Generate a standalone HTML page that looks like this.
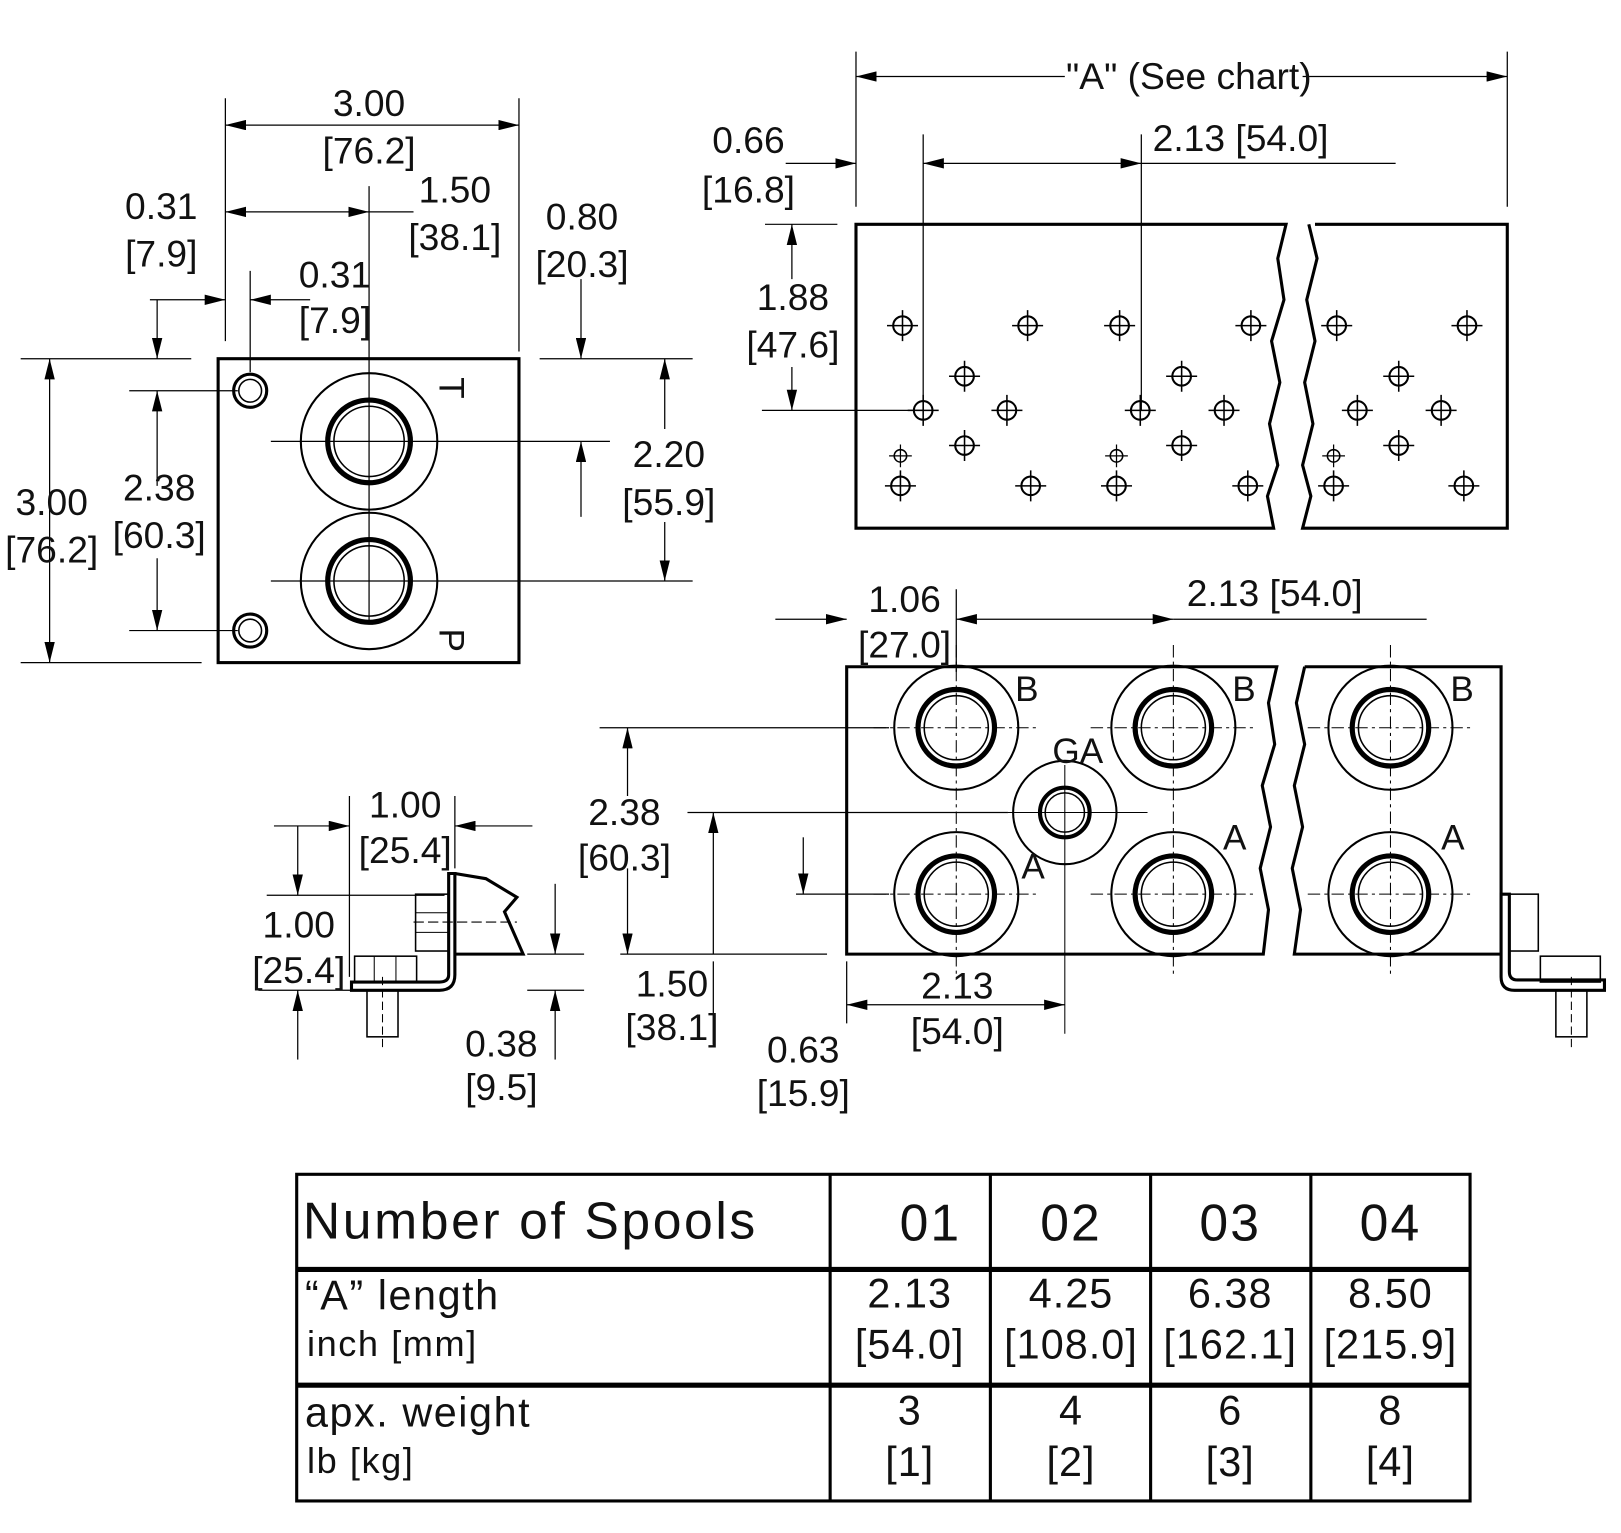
<!DOCTYPE html>
<html><head><meta charset="utf-8"><style>
html,body{margin:0;padding:0;background:#fff;}
svg{display:block;}
text{font-family:"Liberation Sans",sans-serif;fill:#111;}
</style></head><body>
<svg width="1621" height="1533" viewBox="0 0 1568 1483" preserveAspectRatio="none" xmlns="http://www.w3.org/2000/svg">
<defs>
<marker id="a" viewBox="0 0 20 10" refX="20" refY="5" markerWidth="20" markerHeight="10" markerUnits="userSpaceOnUse" orient="auto-start-reverse"><path d="M0,0 L20,5 L0,10z" fill="#000"/></marker>
<g id="h"><circle r="9" fill="none" stroke="#000" stroke-width="2"/><path d="M-15,0H15M0,-15V15" stroke="#000" stroke-width="1.5"/></g>
<g id="hs"><circle r="6" fill="none" stroke="#000" stroke-width="1.5"/><path d="M-11,0H11M0,-11V11" stroke="#000" stroke-width="1.2"/></g>
<g id="p"><circle r="60" fill="none" stroke="#000" stroke-width="2"/><circle r="37" fill="none" stroke="#000" stroke-width="5"/><circle r="31" fill="none" stroke="#000" stroke-width="1.5"/><path d="M-80,0H80M0,-80V80" stroke="#000" stroke-width="1" stroke-dasharray="12,4,3,4"/></g>
<g id="cl"><use href="#h" x="0" y="-33"/><use href="#h" x="-40" y="0"/><use href="#h" x="41" y="0"/><use href="#h" x="0" y="34"/></g>
</defs>
<g stroke="#000" fill="none">
<rect x="211" y="347" width="291" height="294" stroke-width="3"/>
<circle cx="242" cy="378" r="16" stroke-width="3"/><circle cx="242" cy="378" r="11" stroke-width="1.5"/>
<circle cx="242" cy="610" r="16" stroke-width="3"/><circle cx="242" cy="610" r="11" stroke-width="1.5"/>
<circle cx="357" cy="427" r="66" stroke-width="2"/><circle cx="357" cy="427" r="40" stroke-width="5"/><circle cx="357" cy="427" r="34" stroke-width="1.5"/>
<circle cx="357" cy="562" r="66" stroke-width="2"/><circle cx="357" cy="562" r="40" stroke-width="5"/><circle cx="357" cy="562" r="34" stroke-width="1.5"/>
<g stroke-width="1.2">
<path d="M357,180V600M262,427H590M262,562H670M125,378H230M125,610H230"/>
<path d="M218,95V330M502,95V340M242,262V360M20,347H185M20,641H195M522,347H670"/>
<path d="M218,121H502" marker-start="url(#a)" marker-end="url(#a)"/>
<path d="M218,205H357" marker-start="url(#a)" marker-end="url(#a)"/>
<path d="M357,205H400"/>
<path d="M145,290H218" marker-end="url(#a)"/><path d="M300,290H242" marker-end="url(#a)"/>
<path d="M152,290V347" marker-end="url(#a)"/>
<path d="M562,270V347" marker-end="url(#a)"/>
<path d="M48,347V641" marker-start="url(#a)" marker-end="url(#a)"/>
<path d="M152,378V470M152,540V610" marker-start="url(#a)" marker-end="url(#a)"/>
<path d="M643,347V415M643,505V562" marker-start="url(#a)" marker-end="url(#a)"/>
<path d="M562,427V500" marker-start="url(#a)"/>
</g>
<path d="M828,217H1244L1236,250L1242,290L1230,330L1238,370L1228,410L1236,450L1226,480L1232,511H828Z" stroke-width="3"/>
<path d="M1272,217H1458V511H1260L1268,480L1260,450L1270,410L1262,370L1272,330L1264,290L1274,250L1266,217" stroke-width="3"/>
<g stroke-width="1.2">
<path d="M828,50V200M1458,50V200M893,130V397M1104,130V397M740,217H810M737,397H893"/>
<path d="M828,74H1030M1260,74H1458" marker-start="url(#a)" marker-end="url(#a)"/>
<path d="M893,158H1104" marker-start="url(#a)" marker-end="url(#a)"/>
<path d="M1104,158H1350"/>
<path d="M760,158H828" marker-end="url(#a)"/>
<path d="M766,217V270M766,355V397" marker-start="url(#a)" marker-end="url(#a)"/>
</g>
</g>
<g>
<use href="#h" x="873" y="315"/><use href="#h" x="994" y="315"/><use href="#h" x="1083" y="315"/><use href="#h" x="1210" y="315"/><use href="#h" x="1293" y="315"/><use href="#h" x="1419" y="315"/>
<use href="#cl" x="933" y="397"/><use href="#cl" x="1143" y="397"/><use href="#cl" x="1353" y="397"/>
<use href="#hs" x="871" y="441"/><use href="#h" x="871" y="470"/><use href="#hs" x="1080" y="441"/><use href="#h" x="1080" y="470"/><use href="#hs" x="1290" y="441"/><use href="#h" x="1290" y="470"/>
<use href="#h" x="997" y="470"/><use href="#h" x="1207" y="470"/><use href="#h" x="1416" y="470"/>
</g>
<g stroke="#000" fill="none">
<path d="M819,645H1235L1227,680L1233,720L1221,760L1229,800L1219,840L1227,880L1222,923H819Z" stroke-width="3"/>
<path d="M1262,645H1452V923H1252L1258,880L1250,840L1260,800L1252,760L1262,720L1254,680L1262,645" stroke-width="3"/>
<circle cx="1030" cy="786" r="50" stroke-width="2"/><circle cx="1030" cy="786" r="24" stroke-width="4"/><circle cx="1030" cy="786" r="19" stroke-width="1.5"/>
<path d="M975,786H1110M1030,740V1000" stroke-width="1"/>
<g stroke-width="1.2">
<path d="M925,570V650M580,704H860M665,786H975M770,865H860M600,923H800"/>
<path d="M750,599H819" marker-end="url(#a)"/>
<path d="M925,599H1135" marker-start="url(#a)" marker-end="url(#a)"/>
<path d="M1135,599H1380"/>
<path d="M607,704V770M607,840V923" marker-start="url(#a)" marker-end="url(#a)"/>
<path d="M690,786V923M690,930V1010" marker-start="url(#a)"/>
<path d="M777,810V865" marker-end="url(#a)"/>
<path d="M819,930V990"/>
<path d="M819,972H1030" marker-start="url(#a)" marker-end="url(#a)"/>
</g>
<path d="M340,958H425Q440,958 440,943V845H434V943Q434,950 425,950H340Z" stroke-width="3" fill="#fff"/>
<path d="M440,845L470,850L500,868L488,882L506,923H440" stroke-width="3"/>
<rect x="402" y="865" width="32" height="55" stroke-width="1.5"/><path d="M402,883H434M402,902H434" stroke-width="1"/>
<rect x="343" y="925" width="60" height="25" stroke-width="1.5"/><path d="M362,925V950M383,925V950" stroke-width="1"/>
<rect x="355" y="958" width="30" height="45" stroke-width="1.5"/><path d="M370,945V1015" stroke-width="1" stroke-dasharray="8,4"/>
<path d="M400,892H500" stroke-width="1" stroke-dasharray="10,4"/>
<g stroke-width="1.2">
<path d="M338,770V945M440,770V840M258,866H430M250,958H340M510,958H565M510,923H565"/>
<path d="M265,799H338" marker-end="url(#a)"/><path d="M515,799H440" marker-end="url(#a)"/>
<path d="M288,799V866" marker-end="url(#a)"/><path d="M288,1025V958" marker-end="url(#a)"/>
<path d="M537,855V923" marker-end="url(#a)"/><path d="M537,1025V958" marker-end="url(#a)"/>
</g>
<path d="M1452,865H1460V940Q1460,948 1468,948H1552V958H1465Q1452,958 1452,945Z" stroke-width="3" fill="#fff"/>
<rect x="1460" y="865" width="28" height="55" stroke-width="1.5"/>
<rect x="1490" y="925" width="58" height="25" stroke-width="1.5"/>
<rect x="1505" y="958" width="30" height="45" stroke-width="1.5"/><path d="M1520,945V1015" stroke-width="1" stroke-dasharray="8,4"/>
</g>
<use href="#p" x="925" y="704"/><use href="#p" x="1135" y="704"/><use href="#p" x="1345" y="704"/>
<use href="#p" x="925" y="865"/><use href="#p" x="1135" y="865"/><use href="#p" x="1345" y="865"/>
<g font-size="36" text-anchor="middle" style="font-family:'Liberation Sans Narrow','Liberation Sans',sans-serif">
<text x="357" y="112">3.00</text><text x="357" y="158">[76.2]</text>
<text x="440" y="196">1.50</text><text x="440" y="242">[38.1]</text>
<text x="156" y="212">0.31</text><text x="156" y="258">[7.9]</text>
<text x="324" y="278">0.31</text><text x="324" y="322">[7.9]</text>
<text x="563" y="222">0.80</text><text x="563" y="268">[20.3]</text>
<text x="50" y="498">3.00</text><text x="50" y="544">[76.2]</text>
<text x="154" y="484">2.38</text><text x="154" y="530">[60.3]</text>
<text x="647" y="452">2.20</text><text x="647" y="498">[55.9]</text>
<text x="1150" y="86">"A" (See chart)</text>
<text x="724" y="148">0.66</text><text x="724" y="196">[16.8]</text>
<text x="1200" y="146">2.13 [54.0]</text>
<text x="767" y="300">1.88</text><text x="767" y="346">[47.6]</text>
<text x="875" y="592">1.06</text><text x="875" y="636">[27.0]</text>
<text x="1233" y="586">2.13 [54.0]</text>
<text x="604" y="798">2.38</text><text x="604" y="842">[60.3]</text>
<text x="392" y="791">1.00</text><text x="392" y="835">[25.4]</text>
<text x="289" y="907">1.00</text><text x="289" y="951">[25.4]</text>
<text x="650" y="964">1.50</text><text x="650" y="1006">[38.1]</text>
<text x="926" y="966">2.13</text><text x="926" y="1010">[54.0]</text>
<text x="485" y="1022">0.38</text><text x="485" y="1064">[9.5]</text>
<text x="777" y="1028">0.63</text><text x="777" y="1070">[15.9]</text>
</g>
<g font-size="34">
<text x="0" y="0" transform="translate(425,365) rotate(90)">T</text>
<text x="0" y="0" transform="translate(425,608) rotate(90)">P</text>
<text x="982" y="678">B</text><text x="1192" y="678">B</text><text x="1403" y="678">B</text>
<text x="1018" y="738">GA</text>
<text x="988" y="850">A</text><text x="1183" y="822">A</text><text x="1394" y="822">A</text>
</g>
<g stroke="#000" fill="none" stroke-width="3">
<rect x="287" y="1136" width="1135" height="316"/>
<path d="M287,1228H1422M287,1340H1422" stroke-width="5"/>
<path d="M803,1136V1452M958,1136V1452M1113,1136V1452M1268,1136V1452"/>
</g>
<g font-size="50" letter-spacing="2.5"><text x="293" y="1198">Number of Spools</text></g>
<g font-size="50" text-anchor="middle" letter-spacing="2"><text x="900" y="1200">01</text><text x="1036" y="1200">02</text><text x="1190" y="1200">03</text><text x="1345" y="1200">04</text></g>
<g font-size="40" letter-spacing="1.5"><text x="295" y="1267">“A” length</text><text x="297" y="1312" font-size="35">inch [mm]</text>
<text x="295" y="1380">apx. weight</text><text x="297" y="1425" font-size="35">lb [kg]</text></g>
<g font-size="40" text-anchor="middle" letter-spacing="1">
<text x="880" y="1265">2.13</text><text x="880" y="1314">[54.0]</text>
<text x="1036" y="1265">4.25</text><text x="1036" y="1314">[108.0]</text>
<text x="1190" y="1265">6.38</text><text x="1190" y="1314">[162.1]</text>
<text x="1345" y="1265">8.50</text><text x="1345" y="1314">[215.9]</text>
<text x="880" y="1378">3</text><text x="880" y="1428">[1]</text>
<text x="1036" y="1378">4</text><text x="1036" y="1428">[2]</text>
<text x="1190" y="1378">6</text><text x="1190" y="1428">[3]</text>
<text x="1345" y="1378">8</text><text x="1345" y="1428">[4]</text>
</g>
</svg>
</body></html>
